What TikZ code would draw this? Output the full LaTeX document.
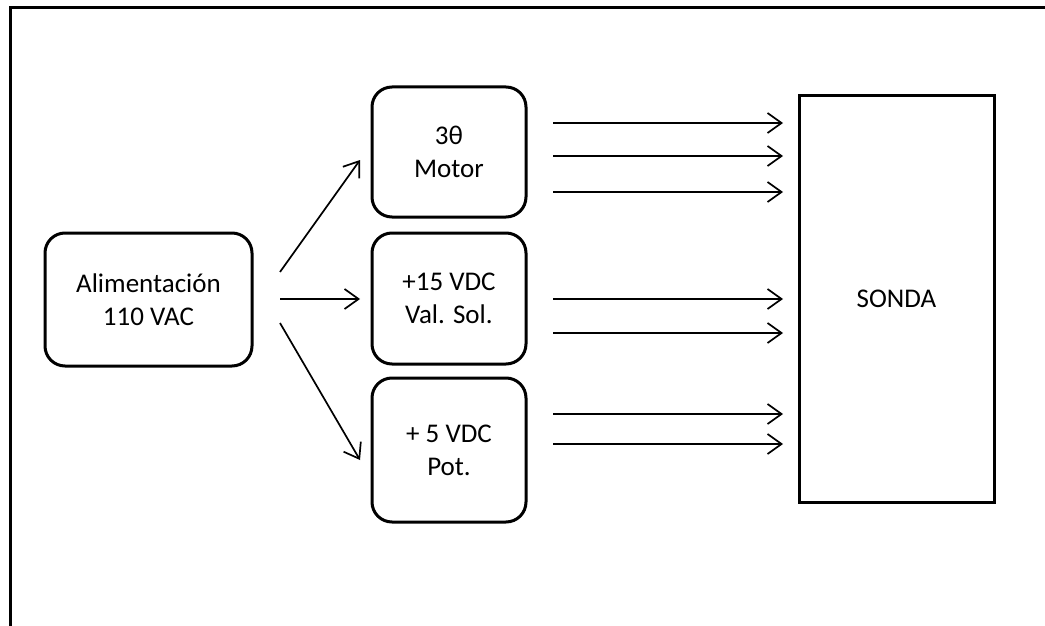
\documentclass[tikz,border=0pt]{standalone}
\usepackage{fontspec}
\setmainfont{Carlito}
\usetikzlibrary{arrows.meta}
\begin{document}
\begin{tikzpicture}[x=1pt,y=-1pt,
  rbox/.style={draw,line width=3pt,rounded corners=20pt,align=center,inner sep=0pt,font=\fontsize{27}{33}\selectfont},
  sbox/.style={draw,line width=3pt,align=center,inner sep=0pt,font=\fontsize{27}{33}\selectfont},
  conn/.style={line width=1.7pt,-{Straight Barb[length=14pt,width=20pt]}},
  frame/.style={line width=3pt}]
\useasboundingbox (0,0) rectangle (1045,626);
\coordinate (fb) at (10,626);
\coordinate (ftl) at (10,7.5);
\coordinate (ftr) at (1045,7.5);
\draw[frame] (fb) -- (ftl) -- (ftr);

\node[rbox,minimum width=207pt,minimum height=133pt] (alim) at (148.5,299.5) {Alimentación\\110 VAC};
\node[rbox,minimum width=154pt,minimum height=130pt] (motor) at (449,152) {3θ\\Motor};
\node[rbox,minimum width=154pt,minimum height=131pt] (val) at (449,298.5) {+15 VDC\\Val. Sol.};
\node[rbox,minimum width=154pt,minimum height=144pt] (pot) at (449,450) {+ 5 VDC\\Pot.};
\node[sbox,minimum width=195pt,minimum height=406pt] (sonda) at (896.5,299) {SONDA};

% left fan-out arrows
\coordinate (a1s) at (280,272); \coordinate (a1e) at (360,160);
\coordinate (a2s) at (280,299); \coordinate (a2e) at (360,299);
\coordinate (a3s) at (280,323); \coordinate (a3e) at (360,460);
\draw[conn] (a1s) -- (a1e);
\draw[conn] (a2s) -- (a2e);
\draw[conn] (a3s) -- (a3e);

% right arrows to SONDA
\foreach \i/\y in {1/123,2/156,3/192,4/299,5/333,6/414,7/444}{
  \coordinate (r\i s) at (553,\y);
  \coordinate (r\i e) at (783,\y);
  \draw[conn] (r\i s) -- (r\i e);
}
\end{tikzpicture}
\end{document}
